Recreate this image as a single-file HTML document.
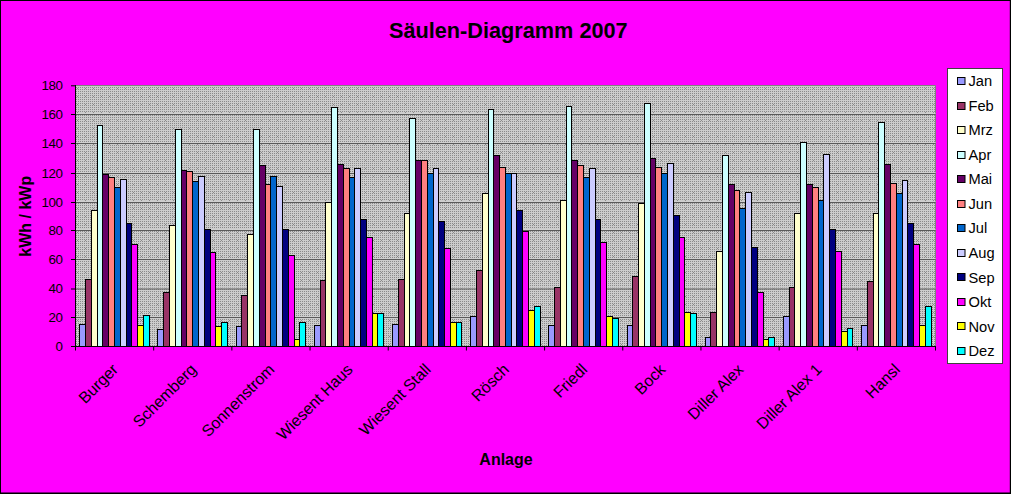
<!DOCTYPE html><html><head><meta charset="utf-8"><title>Chart</title><style>html,body{margin:0;padding:0;background:#ff00ff;}svg{display:block}text{font-family:"Liberation Sans",sans-serif;fill:#000}</style></head><body>
<svg width="1011" height="494" viewBox="0 0 1011 494">
<defs><pattern id="pp" width="8" height="8" patternUnits="userSpaceOnUse"><rect width="8" height="8" fill="#cccccc"/><rect x="0" y="1" width="1" height="1" fill="#8a8a8a"/><rect x="2" y="1" width="1" height="1" fill="#8a8a8a"/><rect x="4" y="1" width="1" height="1" fill="#8a8a8a"/><rect x="6" y="1" width="1" height="1" fill="#8a8a8a"/><rect x="0" y="3" width="1" height="1" fill="#8a8a8a"/><rect x="2" y="3" width="1" height="1" fill="#8a8a8a"/><rect x="4" y="3" width="1" height="1" fill="#8a8a8a"/><rect x="6" y="3" width="1" height="1" fill="#8a8a8a"/><rect x="0" y="5" width="1" height="1" fill="#8a8a8a"/><rect x="2" y="5" width="1" height="1" fill="#8a8a8a"/><rect x="4" y="5" width="1" height="1" fill="#8a8a8a"/><rect x="6" y="5" width="1" height="1" fill="#8a8a8a"/><rect x="0" y="7" width="1" height="1" fill="#8a8a8a"/><rect x="2" y="7" width="1" height="1" fill="#8a8a8a"/><rect x="4" y="7" width="1" height="1" fill="#8a8a8a"/><rect x="6" y="7" width="1" height="1" fill="#8a8a8a"/><rect x="5" y="0" width="1" height="1" fill="#8a8a8a"/></pattern></defs>
<rect x="0" y="0" width="1011" height="494" fill="#ff00ff"/>
<rect x="0" y="0" width="1011" height="1" fill="#000"/><rect x="0" y="0" width="1" height="494" fill="#000"/><rect x="1009.8" y="0" width="1.2" height="494" fill="#000"/><rect x="0" y="492.5" width="1011" height="1.5" fill="#000"/>
<rect x="75.5" y="85.5" width="860.0" height="261.0" fill="url(#pp)"/>
<rect x="75.5" y="85.0" width="860.0" height="1" fill="#808080"/>
<rect x="935.0" y="85.5" width="1" height="261.0" fill="#808080"/>
<rect x="71.0" y="346.0" width="4.5" height="1" fill="#000"/>
<text x="62.6" y="350.5" font-size="13.33" letter-spacing="-0.4" text-anchor="end">0</text>
<rect x="75.5" y="316.0" width="860.0" height="1" fill="#d0d0d0"/>
<rect x="75.5" y="317.0" width="860.0" height="1" fill="#5a5a5a"/>
<rect x="71.0" y="317.0" width="4.5" height="1" fill="#000"/>
<text x="62.6" y="321.5" font-size="13.33" letter-spacing="-0.4" text-anchor="end">20</text>
<rect x="75.5" y="287.5" width="860.0" height="1" fill="#d0d0d0"/>
<rect x="75.5" y="288.5" width="860.0" height="1" fill="#5a5a5a"/>
<rect x="71.0" y="288.5" width="4.5" height="1" fill="#000"/>
<text x="62.6" y="293.0" font-size="13.33" letter-spacing="-0.4" text-anchor="end">40</text>
<rect x="75.5" y="258.0" width="860.0" height="1" fill="#d0d0d0"/>
<rect x="75.5" y="259.0" width="860.0" height="1" fill="#5a5a5a"/>
<rect x="71.0" y="259.0" width="4.5" height="1" fill="#000"/>
<text x="62.6" y="263.5" font-size="13.33" letter-spacing="-0.4" text-anchor="end">60</text>
<rect x="75.5" y="229.0" width="860.0" height="1" fill="#d0d0d0"/>
<rect x="75.5" y="230.0" width="860.0" height="1" fill="#5a5a5a"/>
<rect x="71.0" y="230.0" width="4.5" height="1" fill="#000"/>
<text x="62.6" y="234.5" font-size="13.33" letter-spacing="-0.4" text-anchor="end">80</text>
<rect x="75.5" y="201.0" width="860.0" height="1" fill="#d0d0d0"/>
<rect x="75.5" y="202.0" width="860.0" height="1" fill="#5a5a5a"/>
<rect x="71.0" y="202.0" width="4.5" height="1" fill="#000"/>
<text x="62.6" y="206.5" font-size="13.33" letter-spacing="-0.4" text-anchor="end">100</text>
<rect x="75.5" y="172.0" width="860.0" height="1" fill="#d0d0d0"/>
<rect x="75.5" y="173.0" width="860.0" height="1" fill="#5a5a5a"/>
<rect x="71.0" y="173.0" width="4.5" height="1" fill="#000"/>
<text x="62.6" y="177.5" font-size="13.33" letter-spacing="-0.4" text-anchor="end">120</text>
<rect x="75.5" y="142.0" width="860.0" height="1" fill="#d0d0d0"/>
<rect x="75.5" y="143.0" width="860.0" height="1" fill="#5a5a5a"/>
<rect x="71.0" y="143.0" width="4.5" height="1" fill="#000"/>
<text x="62.6" y="147.5" font-size="13.33" letter-spacing="-0.4" text-anchor="end">140</text>
<rect x="75.5" y="113.0" width="860.0" height="1" fill="#d0d0d0"/>
<rect x="75.5" y="114.0" width="860.0" height="1" fill="#5a5a5a"/>
<rect x="71.0" y="114.0" width="4.5" height="1" fill="#000"/>
<text x="62.6" y="118.5" font-size="13.33" letter-spacing="-0.4" text-anchor="end">160</text>
<rect x="71.0" y="85.3" width="4.5" height="1" fill="#000"/>
<text x="62.6" y="89.8" font-size="13.33" letter-spacing="-0.4" text-anchor="end">180</text>
<rect x="79.5" y="324.5" width="6" height="22.0" fill="#9999FF" stroke="#000" stroke-width="1"/>
<rect x="85.5" y="279.5" width="6" height="67.0" fill="#993366" stroke="#000" stroke-width="1"/>
<rect x="91.5" y="210.5" width="6" height="136.0" fill="#FFFFCC" stroke="#000" stroke-width="1"/>
<rect x="97.5" y="125.5" width="5" height="221.0" fill="#CCFFFF" stroke="#000" stroke-width="1"/>
<rect x="102.5" y="174.5" width="6" height="172.0" fill="#660066" stroke="#000" stroke-width="1"/>
<rect x="108.5" y="177.5" width="6" height="169.0" fill="#FF8080" stroke="#000" stroke-width="1"/>
<rect x="114.5" y="187.5" width="6" height="159.0" fill="#0066CC" stroke="#000" stroke-width="1"/>
<rect x="120.5" y="179.5" width="6" height="167.0" fill="#CCCCFF" stroke="#000" stroke-width="1"/>
<rect x="126.5" y="223.5" width="5" height="123.0" fill="#000080" stroke="#000" stroke-width="1"/>
<rect x="131.5" y="244.5" width="6" height="102.0" fill="#FF00FF" stroke="#000" stroke-width="1"/>
<rect x="137.5" y="325.5" width="6" height="21.0" fill="#FFFF00" stroke="#000" stroke-width="1"/>
<rect x="143.5" y="315.5" width="6" height="31.0" fill="#00FFFF" stroke="#000" stroke-width="1"/>
<rect x="157.5" y="329.5" width="6" height="17.0" fill="#9999FF" stroke="#000" stroke-width="1"/>
<rect x="163.5" y="292.5" width="6" height="54.0" fill="#993366" stroke="#000" stroke-width="1"/>
<rect x="169.5" y="225.5" width="6" height="121.0" fill="#FFFFCC" stroke="#000" stroke-width="1"/>
<rect x="175.5" y="129.5" width="6" height="217.0" fill="#CCFFFF" stroke="#000" stroke-width="1"/>
<rect x="181.5" y="170.5" width="5" height="176.0" fill="#660066" stroke="#000" stroke-width="1"/>
<rect x="186.5" y="171.5" width="6" height="175.0" fill="#FF8080" stroke="#000" stroke-width="1"/>
<rect x="192.5" y="181.5" width="6" height="165.0" fill="#0066CC" stroke="#000" stroke-width="1"/>
<rect x="198.5" y="176.5" width="6" height="170.0" fill="#CCCCFF" stroke="#000" stroke-width="1"/>
<rect x="204.5" y="229.5" width="6" height="117.0" fill="#000080" stroke="#000" stroke-width="1"/>
<rect x="210.5" y="252.5" width="5" height="94.0" fill="#FF00FF" stroke="#000" stroke-width="1"/>
<rect x="215.5" y="326.5" width="6" height="20.0" fill="#FFFF00" stroke="#000" stroke-width="1"/>
<rect x="221.5" y="322.5" width="6" height="24.0" fill="#00FFFF" stroke="#000" stroke-width="1"/>
<rect x="236.5" y="326.5" width="5" height="20.0" fill="#9999FF" stroke="#000" stroke-width="1"/>
<rect x="241.5" y="295.5" width="6" height="51.0" fill="#993366" stroke="#000" stroke-width="1"/>
<rect x="247.5" y="234.5" width="6" height="112.0" fill="#FFFFCC" stroke="#000" stroke-width="1"/>
<rect x="253.5" y="129.5" width="6" height="217.0" fill="#CCFFFF" stroke="#000" stroke-width="1"/>
<rect x="259.5" y="165.5" width="6" height="181.0" fill="#660066" stroke="#000" stroke-width="1"/>
<rect x="265.5" y="184.5" width="5" height="162.0" fill="#FF8080" stroke="#000" stroke-width="1"/>
<rect x="270.5" y="176.5" width="6" height="170.0" fill="#0066CC" stroke="#000" stroke-width="1"/>
<rect x="276.5" y="186.5" width="6" height="160.0" fill="#CCCCFF" stroke="#000" stroke-width="1"/>
<rect x="282.5" y="229.5" width="6" height="117.0" fill="#000080" stroke="#000" stroke-width="1"/>
<rect x="288.5" y="255.5" width="6" height="91.0" fill="#FF00FF" stroke="#000" stroke-width="1"/>
<rect x="294.5" y="339.5" width="5" height="7.0" fill="#FFFF00" stroke="#000" stroke-width="1"/>
<rect x="299.5" y="322.5" width="6" height="24.0" fill="#00FFFF" stroke="#000" stroke-width="1"/>
<rect x="314.5" y="325.5" width="6" height="21.0" fill="#9999FF" stroke="#000" stroke-width="1"/>
<rect x="320.5" y="280.5" width="5" height="66.0" fill="#993366" stroke="#000" stroke-width="1"/>
<rect x="325.5" y="202.5" width="6" height="144.0" fill="#FFFFCC" stroke="#000" stroke-width="1"/>
<rect x="331.5" y="107.5" width="6" height="239.0" fill="#CCFFFF" stroke="#000" stroke-width="1"/>
<rect x="337.5" y="164.5" width="6" height="182.0" fill="#660066" stroke="#000" stroke-width="1"/>
<rect x="343.5" y="168.5" width="6" height="178.0" fill="#FF8080" stroke="#000" stroke-width="1"/>
<rect x="349.5" y="177.5" width="5" height="169.0" fill="#0066CC" stroke="#000" stroke-width="1"/>
<rect x="354.5" y="168.5" width="6" height="178.0" fill="#CCCCFF" stroke="#000" stroke-width="1"/>
<rect x="360.5" y="219.5" width="6" height="127.0" fill="#000080" stroke="#000" stroke-width="1"/>
<rect x="366.5" y="237.5" width="6" height="109.0" fill="#FF00FF" stroke="#000" stroke-width="1"/>
<rect x="372.5" y="313.5" width="5" height="33.0" fill="#FFFF00" stroke="#000" stroke-width="1"/>
<rect x="377.5" y="313.5" width="6" height="33.0" fill="#00FFFF" stroke="#000" stroke-width="1"/>
<rect x="392.5" y="324.5" width="6" height="22.0" fill="#9999FF" stroke="#000" stroke-width="1"/>
<rect x="398.5" y="279.5" width="6" height="67.0" fill="#993366" stroke="#000" stroke-width="1"/>
<rect x="404.5" y="213.5" width="5" height="133.0" fill="#FFFFCC" stroke="#000" stroke-width="1"/>
<rect x="409.5" y="118.5" width="6" height="228.0" fill="#CCFFFF" stroke="#000" stroke-width="1"/>
<rect x="415.5" y="160.5" width="6" height="186.0" fill="#660066" stroke="#000" stroke-width="1"/>
<rect x="421.5" y="160.5" width="6" height="186.0" fill="#FF8080" stroke="#000" stroke-width="1"/>
<rect x="427.5" y="173.5" width="6" height="173.0" fill="#0066CC" stroke="#000" stroke-width="1"/>
<rect x="433.5" y="168.5" width="5" height="178.0" fill="#CCCCFF" stroke="#000" stroke-width="1"/>
<rect x="438.5" y="221.5" width="6" height="125.0" fill="#000080" stroke="#000" stroke-width="1"/>
<rect x="444.5" y="248.5" width="6" height="98.0" fill="#FF00FF" stroke="#000" stroke-width="1"/>
<rect x="450.5" y="322.5" width="6" height="24.0" fill="#FFFF00" stroke="#000" stroke-width="1"/>
<rect x="456.5" y="322.5" width="5" height="24.0" fill="#00FFFF" stroke="#000" stroke-width="1"/>
<rect x="470.5" y="316.5" width="6" height="30.0" fill="#9999FF" stroke="#000" stroke-width="1"/>
<rect x="476.5" y="270.5" width="6" height="76.0" fill="#993366" stroke="#000" stroke-width="1"/>
<rect x="482.5" y="193.5" width="6" height="153.0" fill="#FFFFCC" stroke="#000" stroke-width="1"/>
<rect x="488.5" y="109.5" width="5" height="237.0" fill="#CCFFFF" stroke="#000" stroke-width="1"/>
<rect x="493.5" y="155.5" width="6" height="191.0" fill="#660066" stroke="#000" stroke-width="1"/>
<rect x="499.5" y="167.5" width="6" height="179.0" fill="#FF8080" stroke="#000" stroke-width="1"/>
<rect x="505.5" y="173.5" width="6" height="173.0" fill="#0066CC" stroke="#000" stroke-width="1"/>
<rect x="511.5" y="173.5" width="5" height="173.0" fill="#CCCCFF" stroke="#000" stroke-width="1"/>
<rect x="516.5" y="210.5" width="6" height="136.0" fill="#000080" stroke="#000" stroke-width="1"/>
<rect x="522.5" y="231.5" width="6" height="115.0" fill="#FF00FF" stroke="#000" stroke-width="1"/>
<rect x="528.5" y="310.5" width="6" height="36.0" fill="#FFFF00" stroke="#000" stroke-width="1"/>
<rect x="534.5" y="306.5" width="6" height="40.0" fill="#00FFFF" stroke="#000" stroke-width="1"/>
<rect x="548.5" y="325.5" width="6" height="21.0" fill="#9999FF" stroke="#000" stroke-width="1"/>
<rect x="554.5" y="287.5" width="6" height="59.0" fill="#993366" stroke="#000" stroke-width="1"/>
<rect x="560.5" y="200.5" width="6" height="146.0" fill="#FFFFCC" stroke="#000" stroke-width="1"/>
<rect x="566.5" y="106.5" width="5" height="240.0" fill="#CCFFFF" stroke="#000" stroke-width="1"/>
<rect x="571.5" y="160.5" width="6" height="186.0" fill="#660066" stroke="#000" stroke-width="1"/>
<rect x="577.5" y="165.5" width="6" height="181.0" fill="#FF8080" stroke="#000" stroke-width="1"/>
<rect x="583.5" y="177.5" width="6" height="169.0" fill="#0066CC" stroke="#000" stroke-width="1"/>
<rect x="589.5" y="168.5" width="6" height="178.0" fill="#CCCCFF" stroke="#000" stroke-width="1"/>
<rect x="595.5" y="219.5" width="5" height="127.0" fill="#000080" stroke="#000" stroke-width="1"/>
<rect x="600.5" y="242.5" width="6" height="104.0" fill="#FF00FF" stroke="#000" stroke-width="1"/>
<rect x="606.5" y="316.5" width="6" height="30.0" fill="#FFFF00" stroke="#000" stroke-width="1"/>
<rect x="612.5" y="318.5" width="6" height="28.0" fill="#00FFFF" stroke="#000" stroke-width="1"/>
<rect x="627.5" y="325.5" width="5" height="21.0" fill="#9999FF" stroke="#000" stroke-width="1"/>
<rect x="632.5" y="276.5" width="6" height="70.0" fill="#993366" stroke="#000" stroke-width="1"/>
<rect x="638.5" y="203.5" width="6" height="143.0" fill="#FFFFCC" stroke="#000" stroke-width="1"/>
<rect x="644.5" y="103.5" width="6" height="243.0" fill="#CCFFFF" stroke="#000" stroke-width="1"/>
<rect x="650.5" y="158.5" width="5" height="188.0" fill="#660066" stroke="#000" stroke-width="1"/>
<rect x="655.5" y="167.5" width="6" height="179.0" fill="#FF8080" stroke="#000" stroke-width="1"/>
<rect x="661.5" y="173.5" width="6" height="173.0" fill="#0066CC" stroke="#000" stroke-width="1"/>
<rect x="667.5" y="163.5" width="6" height="183.0" fill="#CCCCFF" stroke="#000" stroke-width="1"/>
<rect x="673.5" y="215.5" width="6" height="131.0" fill="#000080" stroke="#000" stroke-width="1"/>
<rect x="679.5" y="237.5" width="5" height="109.0" fill="#FF00FF" stroke="#000" stroke-width="1"/>
<rect x="684.5" y="312.5" width="6" height="34.0" fill="#FFFF00" stroke="#000" stroke-width="1"/>
<rect x="690.5" y="313.5" width="6" height="33.0" fill="#00FFFF" stroke="#000" stroke-width="1"/>
<rect x="705.5" y="337.5" width="5" height="9.0" fill="#9999FF" stroke="#000" stroke-width="1"/>
<rect x="710.5" y="312.5" width="6" height="34.0" fill="#993366" stroke="#000" stroke-width="1"/>
<rect x="716.5" y="251.5" width="6" height="95.0" fill="#FFFFCC" stroke="#000" stroke-width="1"/>
<rect x="722.5" y="155.5" width="6" height="191.0" fill="#CCFFFF" stroke="#000" stroke-width="1"/>
<rect x="728.5" y="184.5" width="6" height="162.0" fill="#660066" stroke="#000" stroke-width="1"/>
<rect x="734.5" y="190.5" width="5" height="156.0" fill="#FF8080" stroke="#000" stroke-width="1"/>
<rect x="739.5" y="208.5" width="6" height="138.0" fill="#0066CC" stroke="#000" stroke-width="1"/>
<rect x="745.5" y="192.5" width="6" height="154.0" fill="#CCCCFF" stroke="#000" stroke-width="1"/>
<rect x="751.5" y="247.5" width="6" height="99.0" fill="#000080" stroke="#000" stroke-width="1"/>
<rect x="757.5" y="292.5" width="6" height="54.0" fill="#FF00FF" stroke="#000" stroke-width="1"/>
<rect x="763.5" y="339.5" width="5" height="7.0" fill="#FFFF00" stroke="#000" stroke-width="1"/>
<rect x="768.5" y="337.5" width="6" height="9.0" fill="#00FFFF" stroke="#000" stroke-width="1"/>
<rect x="783.5" y="316.5" width="6" height="30.0" fill="#9999FF" stroke="#000" stroke-width="1"/>
<rect x="789.5" y="287.5" width="5" height="59.0" fill="#993366" stroke="#000" stroke-width="1"/>
<rect x="794.5" y="213.5" width="6" height="133.0" fill="#FFFFCC" stroke="#000" stroke-width="1"/>
<rect x="800.5" y="142.5" width="6" height="204.0" fill="#CCFFFF" stroke="#000" stroke-width="1"/>
<rect x="806.5" y="184.5" width="6" height="162.0" fill="#660066" stroke="#000" stroke-width="1"/>
<rect x="812.5" y="187.5" width="6" height="159.0" fill="#FF8080" stroke="#000" stroke-width="1"/>
<rect x="818.5" y="200.5" width="5" height="146.0" fill="#0066CC" stroke="#000" stroke-width="1"/>
<rect x="823.5" y="154.5" width="6" height="192.0" fill="#CCCCFF" stroke="#000" stroke-width="1"/>
<rect x="829.5" y="229.5" width="6" height="117.0" fill="#000080" stroke="#000" stroke-width="1"/>
<rect x="835.5" y="251.5" width="6" height="95.0" fill="#FF00FF" stroke="#000" stroke-width="1"/>
<rect x="841.5" y="331.5" width="6" height="15.0" fill="#FFFF00" stroke="#000" stroke-width="1"/>
<rect x="847.5" y="328.5" width="5" height="18.0" fill="#00FFFF" stroke="#000" stroke-width="1"/>
<rect x="861.5" y="325.5" width="6" height="21.0" fill="#9999FF" stroke="#000" stroke-width="1"/>
<rect x="867.5" y="281.5" width="6" height="65.0" fill="#993366" stroke="#000" stroke-width="1"/>
<rect x="873.5" y="213.5" width="5" height="133.0" fill="#FFFFCC" stroke="#000" stroke-width="1"/>
<rect x="878.5" y="122.5" width="6" height="224.0" fill="#CCFFFF" stroke="#000" stroke-width="1"/>
<rect x="884.5" y="164.5" width="6" height="182.0" fill="#660066" stroke="#000" stroke-width="1"/>
<rect x="890.5" y="183.5" width="6" height="163.0" fill="#FF8080" stroke="#000" stroke-width="1"/>
<rect x="896.5" y="193.5" width="6" height="153.0" fill="#0066CC" stroke="#000" stroke-width="1"/>
<rect x="902.5" y="180.5" width="5" height="166.0" fill="#CCCCFF" stroke="#000" stroke-width="1"/>
<rect x="907.5" y="223.5" width="6" height="123.0" fill="#000080" stroke="#000" stroke-width="1"/>
<rect x="913.5" y="244.5" width="6" height="102.0" fill="#FF00FF" stroke="#000" stroke-width="1"/>
<rect x="919.5" y="325.5" width="6" height="21.0" fill="#FFFF00" stroke="#000" stroke-width="1"/>
<rect x="925.5" y="306.5" width="6" height="40.0" fill="#00FFFF" stroke="#000" stroke-width="1"/>
<rect x="75.0" y="85.0" width="1" height="262.0" fill="#000"/>
<rect x="75.0" y="346.0" width="861.0" height="1" fill="#000"/>
<rect x="75.00" y="347.0" width="1" height="3.5" fill="#000"/>
<rect x="153.18" y="347.0" width="1" height="3.5" fill="#000"/>
<rect x="231.36" y="347.0" width="1" height="3.5" fill="#000"/>
<rect x="309.55" y="347.0" width="1" height="3.5" fill="#000"/>
<rect x="387.73" y="347.0" width="1" height="3.5" fill="#000"/>
<rect x="465.91" y="347.0" width="1" height="3.5" fill="#000"/>
<rect x="544.09" y="347.0" width="1" height="3.5" fill="#000"/>
<rect x="622.27" y="347.0" width="1" height="3.5" fill="#000"/>
<rect x="700.45" y="347.0" width="1" height="3.5" fill="#000"/>
<rect x="778.64" y="347.0" width="1" height="3.5" fill="#000"/>
<rect x="856.82" y="347.0" width="1" height="3.5" fill="#000"/>
<rect x="935.00" y="347.0" width="1" height="3.5" fill="#000"/>
<text font-size="16" text-anchor="end" transform="translate(119.1,370.5) rotate(-45)">Burger</text>
<text font-size="16" text-anchor="end" transform="translate(197.3,370.5) rotate(-45)">Schemberg</text>
<text font-size="16" text-anchor="end" transform="translate(275.5,370.5) rotate(-45)">Sonnenstrom</text>
<text font-size="16" text-anchor="end" transform="translate(353.6,370.5) rotate(-45)">Wiesent Haus</text>
<text font-size="16" text-anchor="end" transform="translate(431.8,370.5) rotate(-45)">Wiesent Stall</text>
<text font-size="16" text-anchor="end" transform="translate(510.0,370.5) rotate(-45)">Rösch</text>
<text font-size="16" text-anchor="end" transform="translate(588.2,370.5) rotate(-45)">Friedl</text>
<text font-size="16" text-anchor="end" transform="translate(666.4,370.5) rotate(-45)">Bock</text>
<text font-size="16" text-anchor="end" transform="translate(744.5,370.5) rotate(-45)">Diller Alex</text>
<text font-size="16" text-anchor="end" transform="translate(822.7,370.5) rotate(-45)">Diller Alex 1</text>
<text font-size="16" text-anchor="end" transform="translate(900.9,370.5) rotate(-45)">Hansl</text>
<text x="508.3" y="37.6" font-size="21.7" font-weight="bold" text-anchor="middle">Säulen-Diagramm 2007</text>
<text x="506" y="465" font-size="16" font-weight="bold" text-anchor="middle">Anlage</text>
<text font-size="16" font-weight="bold" text-anchor="middle" transform="translate(30.5,216.2) rotate(-90)">kWh / kWp</text>
<rect x="947.5" y="68.5" width="55" height="295" fill="#fff" stroke="#404040" stroke-width="1"/>
<rect x="957.5" y="77.5" width="7.5" height="7" fill="#9999FF" stroke="#000" stroke-width="1" transform="translate(0,0)"/>
<text x="968.5" y="86.1" font-size="14.67">Jan</text>
<rect x="957.5" y="102.5" width="7.5" height="7" fill="#993366" stroke="#000" stroke-width="1" transform="translate(0,0)"/>
<text x="968.5" y="110.6" font-size="14.67">Feb</text>
<rect x="957.5" y="126.5" width="7.5" height="7" fill="#FFFFCC" stroke="#000" stroke-width="1" transform="translate(0,0)"/>
<text x="968.5" y="135.2" font-size="14.67">Mrz</text>
<rect x="957.5" y="151.5" width="7.5" height="7" fill="#CCFFFF" stroke="#000" stroke-width="1" transform="translate(0,0)"/>
<text x="968.5" y="159.8" font-size="14.67">Apr</text>
<rect x="957.5" y="175.5" width="7.5" height="7" fill="#660066" stroke="#000" stroke-width="1" transform="translate(0,0)"/>
<text x="968.5" y="184.3" font-size="14.67">Mai</text>
<rect x="957.5" y="200.5" width="7.5" height="7" fill="#FF8080" stroke="#000" stroke-width="1" transform="translate(0,0)"/>
<text x="968.5" y="208.8" font-size="14.67">Jun</text>
<rect x="957.5" y="224.5" width="7.5" height="7" fill="#0066CC" stroke="#000" stroke-width="1" transform="translate(0,0)"/>
<text x="968.5" y="233.4" font-size="14.67">Jul</text>
<rect x="957.5" y="249.5" width="7.5" height="7" fill="#CCCCFF" stroke="#000" stroke-width="1" transform="translate(0,0)"/>
<text x="968.5" y="257.9" font-size="14.67">Aug</text>
<rect x="957.5" y="273.5" width="7.5" height="7" fill="#000080" stroke="#000" stroke-width="1" transform="translate(0,0)"/>
<text x="968.5" y="282.5" font-size="14.67">Sep</text>
<rect x="957.5" y="298.5" width="7.5" height="7" fill="#FF00FF" stroke="#000" stroke-width="1" transform="translate(0,0)"/>
<text x="968.5" y="307.1" font-size="14.67">Okt</text>
<rect x="957.5" y="322.5" width="7.5" height="7" fill="#FFFF00" stroke="#000" stroke-width="1" transform="translate(0,0)"/>
<text x="968.5" y="331.6" font-size="14.67">Nov</text>
<rect x="957.5" y="347.5" width="7.5" height="7" fill="#00FFFF" stroke="#000" stroke-width="1" transform="translate(0,0)"/>
<text x="968.5" y="356.2" font-size="14.67">Dez</text>
</svg></body></html>
